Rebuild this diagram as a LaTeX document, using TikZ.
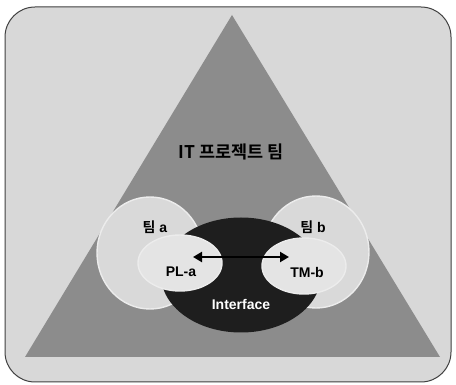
\documentclass[tikz,border=0pt]{standalone}
\usepackage{fontspec}
\setmainfont{Liberation Sans}
\newfontfamily\kr{Noto Sans CJK KR}[BoldFont={* Bold}]
\usetikzlibrary{shapes.geometric,arrows.meta}
\definecolor{bgcol}{HTML}{D8D8D8}
\definecolor{tricol}{HTML}{8C8C8C}
\definecolor{bigcol}{HTML}{D9D9D9}
\definecolor{innercol}{HTML}{E4E4E4}
\definecolor{darkcol}{HTML}{1E1E1E}
\tikzset{
  blob/.style={ellipse, inner sep=0pt, draw=white!85!gray, line width=1.4pt},
  bigblob/.style={blob, fill=bigcol, minimum width=106pt, minimum height=112pt},
  innerblob/.style={blob, fill=innercol, minimum width=84pt, minimum height=56pt},
  lbl/.style={font=\bfseries\fontsize{14}{15}\selectfont, inner sep=0pt},
}
\begin{document}
\begin{tikzpicture}[x=1pt,y=-1pt]
\useasboundingbox (0,0) rectangle (456,385);
\fill[white] (0,0) rectangle (456,385);
\draw[draw=black!75, line width=1pt, fill=bgcol, rounded corners=30pt] (5,7) rectangle (451,382);
\fill[tricol] (232,15) -- (440,357) -- (25,357) -- cycle;
\node[bigblob] (teama) at (150,253) {};
\node[bigblob] (teamb) at (316,252) {};
\node[ellipse, inner sep=0pt, fill=darkcol, minimum width=160pt, minimum height=115pt] (iface) at (241,275) {};
\node[innerblob] (pla) at (180,263) {};
\node[innerblob] (tmb) at (304,266) {};
\coordinate (al) at (193,257);
\coordinate (ar) at (289,257);
\draw[line width=2.8pt, {Triangle[length=9pt,width=10pt]}-{Triangle[length=9pt,width=10pt]}] (al) -- (ar);
\node[lbl, font=\kr\bfseries\fontsize{17.5}{18}\selectfont] (title) at (231,152) {IT 프로젝트 팀};
\node[lbl] (ta) at (155,227) {{\kr\bfseries 팀} a};
\node[lbl] (tb) at (313,227) {{\kr\bfseries 팀} b};
\node[lbl] (tpla) at (181,272) {PL-a};
\node[lbl] (ttmb) at (307,272) {TM-b};
\node[lbl, text=white] (tiface) at (241,304) {Interface};
\end{tikzpicture}
\end{document}
